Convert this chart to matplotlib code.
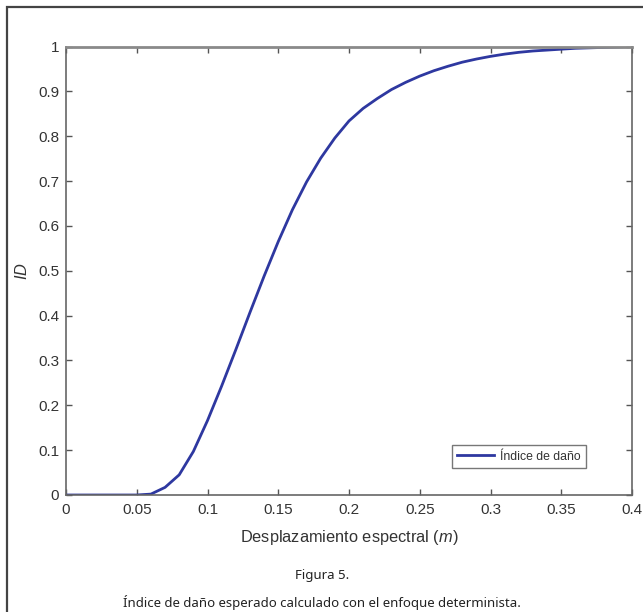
import matplotlib
matplotlib.use('Agg')
import matplotlib.pyplot as plt
from matplotlib.patches import Rectangle
import numpy

# Damage index vs spectral displacement
desplazamiento = [0.00, 0.01, 0.02, 0.03, 0.04, 0.05, 0.06, 0.07, 0.08, 0.09,
                  0.10, 0.11, 0.12, 0.13, 0.14, 0.15, 0.16, 0.17, 0.18, 0.19,
                  0.20, 0.21, 0.22, 0.23, 0.24, 0.25, 0.26, 0.27, 0.28, 0.29,
                  0.30, 0.31, 0.32, 0.33, 0.34, 0.35, 0.36, 0.37, 0.38, 0.39,
                  0.40]
indice_dano = [0.000, 0.000, 0.000, 0.000, 0.000, 0.000, 0.002, 0.017, 0.045, 0.097,
               0.166, 0.243, 0.324, 0.407, 0.488, 0.565, 0.636, 0.698, 0.751, 0.796,
               0.834, 0.862, 0.884, 0.904, 0.920, 0.934, 0.946, 0.956, 0.965, 0.972,
               0.978, 0.983, 0.987, 0.990, 0.992, 0.994, 0.996, 0.997, 0.998, 0.999,
               1.000]

x_ticks = [0, 0.05, 0.1, 0.15, 0.2, 0.25, 0.3, 0.35, 0.4]
x_tick_labels = ['0', '0.05', '0.1', '0.15', '0.2', '0.25', '0.3', '0.35', '0.4']
y_ticks = [0, 0.1, 0.2, 0.3, 0.4, 0.5, 0.6, 0.7, 0.8, 0.9, 1]
y_tick_labels = ['0', '0.1', '0.2', '0.3', '0.4', '0.5', '0.6', '0.7', '0.8', '0.9', '1']

leyenda = 'Índice de daño'
titulo_fig = 'Figura 5.'
pie = 'Índice de daño esperado calculado con el enfoque determinista.'

W, H = 643, 612
plt.rc('font', family='Liberation Sans')
plt.rc('mathtext', fontset='custom', rm='Liberation Sans',
       it='Liberation Sans:italic')
fig = plt.figure(figsize=(W / 100, H / 100), dpi=100)

# outer frame of the figure panel
fig.patches.append(Rectangle((7 / W, -0.1), 1.2, 1 - 7 / H + 0.1,
                             transform=fig.transFigure, fill=False,
                             edgecolor='#444444', linewidth=1.6))

ax = fig.add_axes([66 / W, 1 - 495 / H, (632 - 66) / W, (495 - 46.5) / H])
ax.plot(desplazamiento, indice_dano, color='#2e38a0', linewidth=2.0, label=leyenda)

ax.set_xlim(0, 0.4)
ax.set_ylim(0, 1)
ax.set_xticks(x_ticks)
ax.set_xticklabels(x_tick_labels)
ax.set_yticks(y_ticks)
ax.set_yticklabels(y_tick_labels)
ax.tick_params(direction='in', length=4, width=1, color='#555555',
               labelsize=11, labelcolor='#333333', top=True, right=True)
ax.tick_params(axis='x', pad=6)
ax.tick_params(axis='y', pad=5)
for s in ax.spines.values():
  s.set_color('#666666')
  s.set_linewidth(1.2)
ax.spines['top'].set_color('#8a8a8a')
ax.spines['top'].set_linewidth(2.0)

ax.set_xlabel('Desplazamiento espectral ($\\it{m}$)', fontsize=11.8,
              color='#333333', labelpad=8)
ax.set_ylabel('$\\it{ID}$', fontsize=11.8, color='#333333', labelpad=6)

leg = ax.legend(loc='lower right', bbox_to_anchor=(0.919, 0.06), borderaxespad=0,
                fontsize=8.8, frameon=True, fancybox=False, handlelength=3.0,
                handletextpad=0.5, borderpad=0.45)
leg.get_frame().set_edgecolor('#555555')
leg.get_frame().set_linewidth(1.0)
for t in leg.get_texts():
  t.set_color('#333333')

fig.text(322 / W, 1 - 576 / H, titulo_fig, ha='center', va='center',
         fontsize=9.5, family='Noto Sans', color='#222222')
fig.text(322 / W, 1 - 602 / H, pie, ha='center', va='center',
         fontsize=9.5, family='Noto Sans', color='#222222')

plt.savefig('out.png', dpi=100)
